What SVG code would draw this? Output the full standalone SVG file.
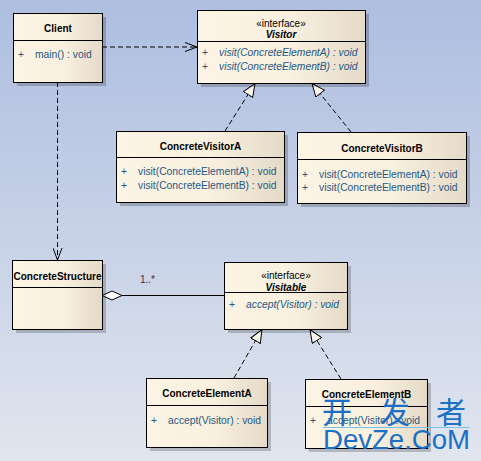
<svg xmlns="http://www.w3.org/2000/svg" width="481" height="461" viewBox="0 0 481 461">
<defs>
<linearGradient id="bg" x1="0" y1="0" x2="0" y2="1">
<stop offset="0" stop-color="#adbee0"/>
<stop offset="1" stop-color="#e1e5ee"/>
</linearGradient>
<linearGradient id="nodefill" x1="0" y1="0" x2="1" y2="0">
<stop offset="0" stop-color="#fcf4e4"/>
<stop offset="0.55" stop-color="#f9f0df"/>
<stop offset="1" stop-color="#e5dac8"/>
</linearGradient>
<marker id="open" viewBox="0 0 12 10" refX="12" refY="5" markerWidth="12" markerHeight="10" markerUnits="userSpaceOnUse" orient="auto">
<path d="M0,0.5 L12,5 L0,9.5" fill="none" stroke="#000" stroke-width="1"/>
</marker>
<marker id="tri" viewBox="0 0 14 12" refX="13.5" refY="6" markerWidth="14" markerHeight="12" markerUnits="userSpaceOnUse" orient="auto">
<path d="M0.5,0.5 L13.5,6 L0.5,11.5 Z" fill="#fdf8ee" stroke="#000" stroke-width="1"/>
</marker>
<marker id="diamond" viewBox="0 0 21 11" refX="0.5" refY="5.5" markerWidth="21" markerHeight="11" markerUnits="userSpaceOnUse" orient="auto">
<path d="M0.5,5.5 L10.5,1 L20.5,5.5 L10.5,10 Z" fill="#ffffff" stroke="#000" stroke-width="1"/>
</marker>
</defs>
<style>
.shadow{fill:#000;opacity:0.2}
.box{fill:url(#nodefill);stroke:#000;stroke-width:1}
.div{stroke:#000;stroke-width:1}
.title{font-family:"Liberation Sans",Arial,sans-serif;font-size:10px;font-weight:bold;fill:#000;text-anchor:middle}
.stereo{font-family:"Liberation Sans",Arial,sans-serif;font-size:10px;fill:#000;text-anchor:middle}
.ititle{font-family:"Liberation Sans",Arial,sans-serif;font-size:10px;font-weight:bold;font-style:italic;fill:#000;text-anchor:middle}
.m{font-family:"Liberation Sans",Arial,sans-serif;font-size:10.3px;fill:#245882}
.mi{font-family:"Liberation Sans",Arial,sans-serif;font-size:10.3px;font-style:italic;fill:#245882}
.dash{fill:none;stroke:#000;stroke-width:1;stroke-dasharray:5,3}
.solid{fill:none;stroke:#000;stroke-width:1}
.mult{font-family:"Liberation Sans",Arial,sans-serif;font-size:10px;fill:#3a2c4a}
.wm{font-family:"Noto Sans CJK SC",sans-serif;font-size:30px;fill:#1a70c6}
.wm2{font-family:"Liberation Sans",Arial,sans-serif;font-size:28px;fill:#1a70c6}
</style>
<rect x="0" y="0" width="481" height="461" fill="url(#bg)"/>

<g id="connectors">
<line class="dash" x1="102" y1="47" x2="197" y2="47" marker-end="url(#open)"/>
<line class="dash" x1="57.5" y1="82" x2="57.5" y2="260" marker-end="url(#open)"/>
<line class="dash" x1="225" y1="131" x2="255" y2="83.5" marker-end="url(#tri)"/>
<line class="dash" x1="351" y1="132" x2="312" y2="83.5" marker-end="url(#tri)"/>
<line class="dash" x1="234" y1="378" x2="262" y2="329.5" marker-end="url(#tri)"/>
<line class="dash" x1="341" y1="379" x2="310" y2="329.5" marker-end="url(#tri)"/>
<line class="solid" x1="102" y1="295.5" x2="224" y2="295.5" marker-start="url(#diamond)"/>
<text class="mult" x="140" y="283">1..*</text>
</g>

<g id="Client">
<rect class="shadow" x="17" y="17" width="89" height="69"/>
<rect class="box" x="13.5" y="13.5" width="89" height="69"/>
<line class="div" x1="13.5" y1="40.5" x2="102.5" y2="40.5"/>
<text class="title" x="58" y="32">Client</text>
<text class="m" x="18" y="58">+</text>
<text class="m" x="35" y="58">main() : void</text>
</g>

<g id="Visitor">
<rect class="shadow" x="201" y="14" width="168" height="73"/>
<rect class="box" x="197.5" y="10.5" width="168" height="73"/>
<line class="div" x1="197.5" y1="41.5" x2="365.5" y2="41.5"/>
<text class="stereo" x="281" y="27">«interface»</text>
<text class="ititle" x="281" y="38">Visitor</text>
<text class="m" x="202" y="56">+</text>
<text class="mi" x="219" y="56">visit(ConcreteElementA) : void</text>
<text class="m" x="202" y="70">+</text>
<text class="mi" x="219" y="70">visit(ConcreteElementB) : void</text>
</g>

<g id="ConcreteVisitorA">
<rect class="shadow" x="120" y="135" width="168" height="71"/>
<rect class="box" x="116.5" y="131.5" width="168" height="71"/>
<line class="div" x1="116.5" y1="157.5" x2="284.5" y2="157.5"/>
<text class="title" x="200.5" y="149.5">ConcreteVisitorA</text>
<text class="m" x="121" y="175">+</text>
<text class="m" x="138" y="175">visit(ConcreteElementA) : void</text>
<text class="m" x="121" y="189">+</text>
<text class="m" x="138" y="189">visit(ConcreteElementB) : void</text>
</g>

<g id="ConcreteVisitorB">
<rect class="shadow" x="301" y="136" width="169" height="71"/>
<rect class="box" x="297.5" y="132.5" width="169" height="71"/>
<line class="div" x1="297.5" y1="159.5" x2="466.5" y2="159.5"/>
<text class="title" x="382" y="151.5">ConcreteVisitorB</text>
<text class="m" x="302" y="178">+</text>
<text class="m" x="319" y="178">visit(ConcreteElementA) : void</text>
<text class="m" x="302" y="191">+</text>
<text class="m" x="319" y="191">visit(ConcreteElementB) : void</text>
</g>

<g id="ConcreteStructure">
<rect class="shadow" x="16" y="264" width="90" height="69"/>
<rect class="box" x="12.5" y="260.5" width="90" height="69"/>
<line class="div" x1="12.5" y1="287.5" x2="102.5" y2="287.5"/>
<text class="title" x="57.5" y="279.5" textLength="88" lengthAdjust="spacingAndGlyphs">ConcreteStructure</text>
</g>

<g id="Visitable">
<rect class="shadow" x="228" y="266" width="123" height="67"/>
<rect class="box" x="224.5" y="262.5" width="123" height="67"/>
<line class="div" x1="224.5" y1="292.5" x2="347.5" y2="292.5"/>
<text class="stereo" x="286" y="279">«interface»</text>
<text class="ititle" x="286" y="290.5">Visitable</text>
<text class="m" x="229" y="308">+</text>
<text class="mi" x="246" y="308">accept(Visitor) : void</text>
</g>

<g id="ConcreteElementA">
<rect class="shadow" x="150" y="382" width="121" height="69"/>
<rect class="box" x="146.5" y="378.5" width="121" height="69"/>
<line class="div" x1="146.5" y1="405.5" x2="267.5" y2="405.5"/>
<text class="title" x="207" y="396.5">ConcreteElementA</text>
<text class="m" x="151" y="424">+</text>
<text class="m" x="168" y="424">accept(Visitor) : void</text>
</g>

<g id="ConcreteElementB">
<rect class="shadow" x="309" y="383" width="122" height="69"/>
<rect class="box" x="305.5" y="379.5" width="122" height="69"/>
<line class="div" x1="305.5" y1="406.5" x2="427.5" y2="406.5"/>
<text class="title" x="366.5" y="397.5">ConcreteElementB</text>
<text class="m" x="310" y="424">+</text>
<text class="m" x="327" y="424">accept(Visitor) : void</text>
</g>

<g id="watermark">
<text class="wm" x="322" y="423">开</text>
<text class="wm" x="380" y="423">发</text>
<text class="wm" x="436" y="423">者</text>
<line x1="323" y1="427.5" x2="470" y2="427.5" stroke="#7cc0ea" stroke-width="1"/>
<text class="wm2" x="323" y="449" textLength="147" lengthAdjust="spacingAndGlyphs">DevZe.CoM</text>
</g>
</svg>
